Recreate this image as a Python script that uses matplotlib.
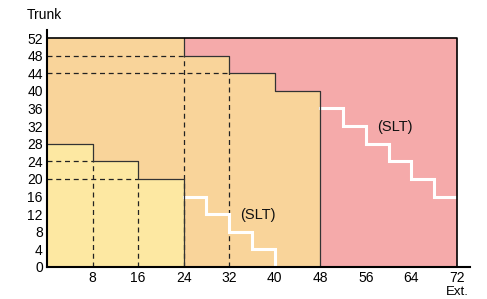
import matplotlib
matplotlib.use("Agg")
import matplotlib.pyplot as plt

plt.rcParams['font.family'] = ['Liberation Sans', 'DejaVu Sans']

x_ticks = [8, 16, 24, 32, 40, 48, 56, 64, 72]
y_ticks = [0, 4, 8, 12, 16, 20, 24, 28, 32, 36, 40, 44, 48, 52]

# step regions (x edges, heights)
orange_x = [0, 24, 32, 40, 48]
orange_h = [52, 48, 44, 40]
yellow_x = [0, 8, 16, 24]
yellow_h = [28, 24, 20]
slt1_x = [24, 28, 32, 36, 40]
slt1_h = [16, 12, 8, 4]
slt2_x = [48, 52, 56, 60, 64, 68, 72]
slt2_h = [36, 32, 28, 24, 20, 16]
xmax, ymax = 72, 52

pink = '#F5AAAA'
orange = '#F9D49A'
yellow = '#FDE8A2'

fig = plt.figure(figsize=(4.87, 2.99), dpi=100)
x0p, x72p, x_endp = 47, 457, 470
y0p, y52p, y_topp = 267, 38, 30
xlim_hi = 72 * (x_endp - x0p) / (x72p - x0p)
ylim_hi = 52 * (y0p - y_topp) / (y0p - y52p)
ax = fig.add_axes([x0p / 487, 1 - y0p / 299, (x_endp - x0p) / 487, (y0p - y_topp) / 299])
ax.set_xlim(0, xlim_hi)
ax.set_ylim(0, ylim_hi)


def step_poly(xs, hs):
    px, py = [xs[0]], [0]
    for i, h in enumerate(hs):
        px += [xs[i], xs[i + 1]]
        py += [h, h]
    px.append(xs[-1])
    py.append(0)
    return px, py


def step_line(xs, hs):
    px, py = [], []
    for i, h in enumerate(hs):
        px += [xs[i], xs[i + 1]]
        py += [h, h]
    return px, py

# pink background
ax.fill([0, xmax, xmax, 0], [0, 0, ymax, ymax], color=pink, zorder=1, lw=0)
ax.plot([0, xmax, xmax], [ymax, ymax, 0], color='black', lw=1.2, zorder=6)

# orange
px, py = step_poly(orange_x, orange_h)
ax.fill(px, py, color=orange, zorder=2, lw=0)
ax.plot(px[2:], py[2:], color='#333333', lw=0.9, zorder=5)

# yellow
px, py = step_poly(yellow_x, yellow_h)
ax.fill(px, py, color=yellow, zorder=3, lw=0)
ax.plot(px[1:], py[1:], color='#333333', lw=0.9, zorder=5)

# dashed guides
dash = dict(color='#222222', lw=0.9, ls=(0, (4, 3)), zorder=4)
ax.plot([0, orange_x[1]], [orange_h[1], orange_h[1]], **dash)
ax.plot([0, orange_x[2]], [orange_h[2], orange_h[2]], **dash)
ax.plot([orange_x[1], orange_x[1]], [0, orange_h[1]], **dash)
ax.plot([orange_x[2], orange_x[2]], [0, orange_h[2]], **dash)
ax.plot([0, yellow_x[1]], [yellow_h[1], yellow_h[1]], **dash)
ax.plot([0, yellow_x[2]], [yellow_h[2], yellow_h[2]], **dash)
ax.plot([yellow_x[1], yellow_x[1]], [0, yellow_h[1]], **dash)
ax.plot([yellow_x[2], yellow_x[2]], [0, yellow_h[2]], **dash)

# SLT white steps
px, py = step_line(slt1_x, slt1_h)
px.append(slt1_x[-1]); py.append(0)
ax.plot(px, py, color='white', lw=2.2, zorder=4.5, solid_joinstyle='miter')
px, py = step_line(slt2_x, slt2_h)
ax.plot(px, py, color='white', lw=2.2, zorder=4.5, solid_joinstyle='miter')

ax.text(37.0, 11.8, '(SLT)', fontsize=10.5, ha='center', va='center', zorder=7, color='#111111')
ax.text(61.1, 31.8, '(SLT)', fontsize=10.5, ha='center', va='center', zorder=7, color='#111111')

ax.set_xticks(x_ticks)
ax.set_yticks(y_ticks)
ax.tick_params(length=0, labelsize=10, pad=3)
for s in ['top', 'right']:
    ax.spines[s].set_visible(False)
for s in ['left', 'bottom']:
    ax.spines[s].set_linewidth(1.5)
    ax.spines[s].set_zorder(8)

fig.text(27 / 487, 1 - 15 / 299, 'Trunk', fontsize=10, ha='left', va='center')
fig.text(457 / 487, 1 - 292 / 299, 'Ext.', fontsize=9.5, ha='center', va='center')

fig.savefig('out.png', dpi=100)
